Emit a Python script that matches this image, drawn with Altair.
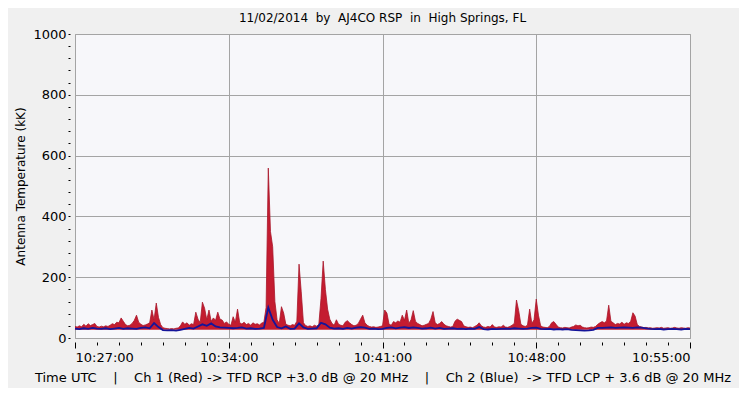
import altair as alt
import pandas as pd

# Ch 1 (Red) antenna temperature, one sample every 6 s from 10:27:00
red = [
    38, 36, 40, 37, 45, 39, 47, 41, 44, 48, 38, 36, 39, 37, 40, 38, 42, 47, 44, 52,
    50, 66, 55, 44, 40, 42, 48, 58, 75, 52, 45, 41, 43, 46, 50, 92, 60, 115, 68, 44,
    34, 32, 31, 30, 31, 30, 32, 33, 40, 53, 45, 50, 42, 47, 44, 85, 62, 50, 118, 98,
    60, 92, 55, 66, 58, 85, 62, 59, 48, 53, 45, 42, 70, 52, 95, 50, 46, 52, 44, 48,
    42, 50, 45, 47, 43, 49, 52, 100, 559, 350, 300, 120, 60, 48, 103, 82, 45, 42, 40, 44,
    42, 55, 243, 152, 50, 41, 38, 40, 37, 42, 39, 44, 130, 253, 160, 95, 62, 48, 42, 60,
    45, 42, 40, 52, 57, 50, 44, 40, 42, 48, 62, 75, 50, 42, 38, 36, 37, 35, 36, 38,
    40, 92, 82, 45, 42, 54, 50, 56, 52, 75, 58, 92, 48, 60, 90, 55, 48, 44, 40, 42,
    45, 48, 62, 87, 50, 44, 48, 54, 45, 40, 38, 36, 38, 55, 62, 58, 54, 40, 37, 35,
    36, 34, 38, 42, 50, 40, 36, 35, 38, 36, 44, 36, 35, 37, 36, 42, 36, 35, 38, 42,
    48, 125, 90, 45, 40, 38, 42, 95, 48, 60, 128, 75, 40, 36, 35, 34, 38, 50, 54, 45,
    36, 34, 33, 35, 34, 33, 36, 38, 43, 40, 42, 36, 34, 33, 34, 36, 35, 38, 45, 50,
    54, 50, 56, 108, 55, 50, 44, 48, 46, 52, 45, 50, 48, 55, 83, 72, 44, 38, 36, 34,
    35, 33, 34, 32, 33, 34, 33, 35, 32, 33, 34, 32, 33, 35, 33, 32, 34, 33, 32, 34, 33,
]

# Ch 2 (Blue) antenna temperature, one sample every 12 s from 10:27:00
blue = [
    31, 29, 32, 30, 33, 31, 30, 32, 29, 31, 33, 30, 32, 31, 30, 33, 35, 32, 49, 36,
    26, 25, 26, 24, 27, 30, 33, 31, 38, 45, 40, 48, 38, 35, 34, 33, 32, 33, 35, 31,
    32, 30, 31, 33, 100, 60, 36, 32, 38, 30, 31, 48, 35, 30, 31, 32, 50, 45, 34, 31,
    32, 30, 33, 31, 34, 36, 34, 30, 31, 29, 30, 33, 35, 32, 34, 36, 33, 35, 33, 31,
    32, 34, 31, 33, 30, 31, 32, 30, 31, 29, 31, 30, 36, 29, 28, 30, 29, 30, 31, 30,
    32, 31, 30, 31, 33, 34, 30, 29, 30, 28, 29, 28, 29, 27, 26, 25, 24, 25, 27, 33,
    33, 34, 35, 33, 34, 35, 34, 33, 35, 34, 32, 30, 29, 30, 28, 29, 30, 29, 28, 30, 29,
]

red_t = [i * 6 for i in range(len(red))]
blue_t = [j * 12 for j in range(len(blue))]

major_x = [0, 420, 840, 1260, 1680]
minor_x = [m * 60 for m in range(29) if m % 7 != 0]
major_y = [0, 200, 400, 600, 800, 1000]
minor_y = [v for v in range(40, 1000, 40) if v % 200 != 0]

title_text = "11/02/2014\u00a0\u00a0by\u00a0\u00a0AJ4CO RSP\u00a0\u00a0in\u00a0\u00a0High Springs, FL"
sp = "\u00a0\u00a0\u00a0\u00a0"
x_title = ("Time UTC" + sp + "|" + sp + "Ch 1 (Red) -> TFD RCP +3.0 dB @ 20 MHz" + sp + "|" + sp
           + "Ch 2 (Blue)\u00a0\u00a0-> TFD LCP + 3.6 dB @ 20 MHz")
y_title = "Antenna Temperature (kK)"

FONT = "DejaVu Sans"
RED = "#c41c30"
DARK_RED = "#a8162a"
BLUE = "#14149a"
GRID = "#a4a4a4"

df_red = pd.DataFrame({"t": red_t, "red": red})
df_blue = pd.DataFrame({"t": blue_t, "blue": blue})

x_scale = alt.Scale(domain=[0, 1680], nice=False, zero=False)
y_scale = alt.Scale(domain=[0, 1000], nice=False)

x_major_axis = alt.Axis(
    values=major_x, orient="bottom", grid=True, gridColor=GRID, gridWidth=1,
    domain=False, offset=4, tickSize=6, tickColor="#000000", labelPadding=3,
    labelFont=FONT, labelFontSize=13, labelColor="#000000",
    labelExpr="'10:' + format(27 + datum.value / 60, '02d') + ':00'",
    title=x_title, titleFont=FONT, titleFontSize=13, titleFontWeight="normal",
    titleColor="#000000", titlePadding=7,
)
y_major_axis = alt.Axis(
    values=major_y, orient="left", grid=True, gridColor=GRID, gridWidth=1,
    domain=False, offset=5, tickSize=2, tickColor="#000000", labelPadding=2,
    labelFont=FONT, labelFontSize=13, labelColor="#000000", format="d",
    title=y_title, titleFont=FONT, titleFontSize=12, titleFontWeight="normal",
    titleColor="#000000", titlePadding=5,
)
x_minor_axis = alt.Axis(
    values=minor_x, orient="bottom", grid=False, domain=False, labels=False,
    offset=4, tickSize=3, tickColor="#000000", title=None,
)
y_minor_axis = alt.Axis(
    values=minor_y, orient="left", grid=False, domain=False, labels=False,
    offset=5, tickSize=2, tickColor="#000000", title=None,
)

red_layer = alt.Chart(df_red).mark_area(
    color=RED, opacity=1, interpolate="linear",
    line={"color": DARK_RED, "strokeWidth": 0.8},
).encode(
    x=alt.X("t:Q", scale=x_scale, axis=x_major_axis),
    y=alt.Y("red:Q", scale=y_scale, axis=y_major_axis),
    y2=alt.datum(27),
)

blue_layer = alt.Chart(df_blue).mark_line(
    color=BLUE, strokeWidth=1.8, interpolate="linear"
).encode(
    x=alt.X("t:Q", scale=x_scale, axis=x_minor_axis),
    y=alt.Y("blue:Q", scale=y_scale, axis=y_minor_axis),
)

chart = alt.layer(red_layer, blue_layer).resolve_axis(
    x="independent", y="independent"
).properties(
    width=615,
    height=304,
    title=alt.TitleParams(
        text=title_text, font=FONT, fontSize=12, fontWeight="normal",
        color="#000000", anchor="middle", offset=3,
    ),
    background="#f0f0f0",
    padding={"left": 67, "top": 26, "right": 49, "bottom": 50},
    autosize=alt.AutoSizeParams(type="none"),
).configure_view(
    fill="#f7f7fa", stroke=GRID, strokeWidth=1
)

chart.save("out.html", embed_options={"renderer": "svg", "actions": False})
